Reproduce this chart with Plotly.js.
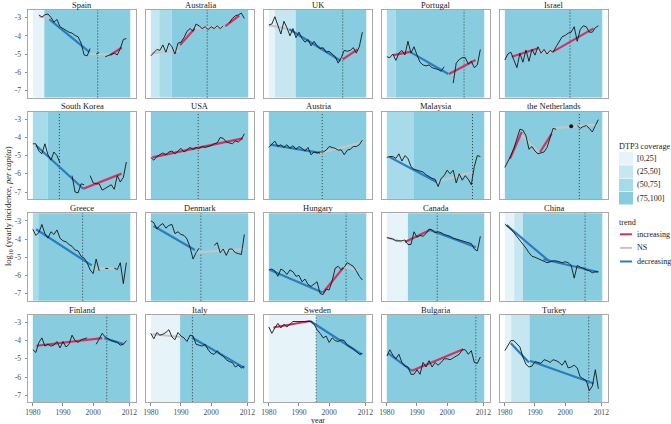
<!DOCTYPE html>
<html><head><meta charset="utf-8">
<script src="https://cdn.plot.ly/plotly-3.0.1.min.js"></script>
<style>body{margin:0;background:#fff}</style>
</head><body><div id="chart" style="width:671px;height:424px"></div>
<script>
const years = [1980,1981,1982,1983,1984,1985,1986,1987,1988,1989,1990,1991,1992,1993,1994,1995,1996,1997,1998,1999,2000,2001,2002,2003,2004,2005,2006,2007,2008,2009,2010,2011,2012];
const countries = ["Spain","Australia","UK","Portugal","Israel","South Korea","USA","Austria","Malaysia","the Netherlands","Greece","Denmark","Hungary","Canada","China","Finland","Italy","Sweden","Bulgaria","Turkey"];
const incidence = [
 [null,null,-2.85,-2.97,-2.84,-2.8,-2.98,-3.25,-3.1,-3.5,-3.6,-3.7,-3.8,-3.85,-3.98,-4.05,-4.4,-5.05,-5.1,-4.7,null,-5.0,-4.92,null,-5.15,-5.08,-5.0,-4.95,-5.05,-4.7,-4.2,-4.15,null],
 [-5.1,-4.9,-4.75,-4.8,-4.5,-4.9,-4.4,-4.6,-5.0,-4.4,-4.35,-4.1,-3.75,-3.6,-3.75,-3.35,-3.45,-3.6,-3.5,-3.65,-3.5,-3.6,-3.45,-3.6,-3.45,null,-3.3,-3.05,-2.9,-2.85,-2.75,-3.05,null],
 [-3.4,-3.35,-2.95,-3.45,-3.9,-3.2,-3.55,-4.0,-3.6,-4.1,-3.8,-4.15,-4.35,-4.2,-4.55,-4.3,-4.55,-4.7,-4.65,-4.9,-4.85,-5.0,-5.15,-5.5,-5.2,-4.8,-4.85,-4.8,-4.65,-4.95,-4.6,-3.8,null],
 [-5.15,-5.2,-5.0,-5.35,-4.95,-4.8,-5.05,-4.3,-4.95,-4.6,-5.05,-5.45,-5.6,-5.65,-5.6,-5.75,-5.8,-5.85,-5.95,-5.7,null,null,-6.6,-5.5,-5.3,-5.2,-5.2,-5.55,-5.4,-5.75,-5.6,-4.75,null],
 [-5.33,-5.0,-4.9,-5.3,-5.75,-4.96,-5.45,-4.78,-5.4,-4.74,-5.06,-4.6,-4.95,-4.75,-5.0,-4.8,-4.9,-4.6,-4.3,-4.05,-3.98,-3.85,-3.8,-3.5,-4.3,-3.65,-3.45,-3.5,-3.8,-3.8,-3.55,-3.45,null],
 [-4.35,-4.35,-4.75,-4.9,-4.35,-4.95,-5.25,-4.8,-5.0,-5.4,null,null,null,-6.1,-7.0,-7.05,-6.55,-6.6,null,-6.1,-6.5,-6.55,-6.55,-6.9,-6.8,-6.7,-6.6,-6.85,-6.1,-6.45,-6.2,-5.35,null],
 [-5.1,-5.25,-5.05,-4.95,-4.85,-4.95,-4.8,-4.75,-4.9,-4.75,-4.6,-4.8,-4.65,-4.55,-4.65,-4.55,-4.6,-4.5,-4.55,-4.5,-4.45,-4.35,-4.3,-4.0,-4.05,-4.25,-4.3,-4.35,-4.2,-4.25,-4.1,-3.8,null],
 [-4.55,-4.4,-4.2,-4.5,-4.4,-4.55,-4.4,-4.6,-4.45,-4.65,-4.5,-4.6,-4.75,-4.55,-4.95,-4.8,-4.85,-4.8,-4.8,-4.7,-4.5,-4.55,-4.6,-4.7,-4.68,-4.95,-4.7,-4.65,-4.5,-4.5,-4.4,-4.15,null],
 [-5.1,-5.05,-5.05,-5.15,-4.9,-5.3,-5.0,-5.15,-5.6,-5.75,-5.8,-5.85,-5.9,-6.05,-6.15,-6.25,-6.3,-6.7,-6.25,-6.1,-5.8,-6.0,-5.8,-6.5,-6.0,-6.35,-6.1,-6.3,-6.6,-5.6,-5.0,-5.05,null],
 [-5.65,-5.35,-5.0,-4.6,-4.0,-3.55,-3.6,-3.9,-4.65,-4.5,-4.75,-4.9,-4.85,-4.8,-4.55,-4.0,-3.5,-3.55,null,null,null,null,-3.39,null,-3.35,-3.5,-3.4,-3.35,-3.5,-3.7,-3.35,-3.02,null],
 [-3.46,-3.8,-3.65,-3.2,-3.7,-3.95,-3.6,-3.75,-3.5,-3.95,-4.1,-4.15,-4.3,-4.4,-4.6,-4.65,-4.95,-5.05,-5.3,-5.7,-5.9,-5.1,-5.75,null,-5.62,-5.62,null,-5.6,-5.68,-5.3,-6.45,-5.3,null],
 [-3.0,-3.1,-3.45,-3.25,-3.15,-3.4,-3.25,-3.2,-3.7,-3.6,-3.75,-3.8,-4.0,-4.45,-5.1,-4.75,-4.5,null,null,null,null,-4.35,-4.2,-4.75,-4.55,-4.9,-4.55,-4.55,-4.75,-4.8,-4.85,-3.75,null],
 [-5.7,-5.65,-5.75,-6.05,-5.65,-5.75,-5.95,-5.7,-5.8,-6.05,-6.0,-6.35,-6.2,-6.5,-6.6,-6.45,-6.35,-7.0,-7.05,-6.75,-6.8,-6.3,-5.6,-5.5,-5.7,-5.55,-5.3,-5.4,-5.5,-5.75,-6.05,-6.25,null],
 [-3.92,-3.95,-4.0,-4.1,-4.1,-4.1,-4.05,-4.3,-4.3,-3.6,-3.9,-3.8,-3.85,-3.7,-3.45,-3.5,-3.65,-3.6,-3.65,-3.75,-3.8,-3.85,-3.95,-4.0,-4.05,-4.1,-4.15,-4.2,-4.25,-4.55,-4.65,-3.85,null],
 [-3.18,-3.3,-3.45,-3.65,-3.85,-4.1,-4.3,-4.5,-4.75,-4.95,-5.0,-5.07,-5.15,-5.2,-5.3,-5.25,-5.2,-5.2,-5.25,-5.3,-5.25,-5.3,-5.45,-6.15,-5.45,-5.55,-5.6,-5.7,-5.75,-5.85,-5.8,-5.8,null],
 [-4.5,-4.65,-4.1,-3.85,-4.3,-4.2,-4.3,-4.25,-4.05,-4.4,-4.05,-4.35,-4.2,-3.7,-4.0,-4.1,-3.95,-3.9,-3.85,null,null,-4.2,-3.9,-3.6,-3.8,-3.9,-4.0,-4.05,-4.1,-4.25,-4.2,-4.0,null],
 [-3.6,-3.9,-3.55,-3.7,-3.65,-3.55,-3.4,-3.8,-3.95,-3.55,-3.75,-3.85,-4.05,-3.7,-3.75,-4.2,-4.25,-4.3,-4.2,-4.5,-4.7,-4.75,-4.55,-4.75,-4.85,-5.05,-5.15,-5.2,-5.45,-5.35,-5.5,-5.4,null],
 [-3.25,-3.6,-3.3,-3.05,-3.3,-3.1,-3.25,-3.1,-2.95,-2.95,-2.95,-2.95,-2.95,-2.95,-2.95,-3.1,-3.4,-3.6,-3.85,-3.75,-4.1,-3.85,-4.0,-4.05,-3.95,-4.0,-4.25,-4.35,-4.45,-4.6,-4.75,-4.7,null],
 [-4.85,-4.5,-4.8,-5.0,-4.75,-5.2,-5.4,-5.45,-5.85,-5.85,-5.6,-5.85,-5.2,-5.45,-5.1,-5.45,-5.2,-5.35,-5.2,-5.0,-5.0,-5.05,-4.95,-4.85,-4.75,-4.5,-4.5,-4.75,-4.55,-5.2,-5.25,-4.9,null],
 [-4.55,-4.25,-4.0,-4.0,-4.2,-4.35,-4.9,-5.3,-5.45,-5.4,-5.15,-5.2,-5.25,-5.05,-5.1,-5.2,-5.05,-5.1,-5.2,-5.35,-5.1,-5.5,-5.45,-5.35,-5.5,-6.0,-6.1,-6.2,-6.75,-6.5,-5.6,-6.65,null]
];
const coverageBreaks = [[1980,1983.8],[1980,1982.8,1986.9],[1980,1982,1988.9],[1980,1982.9],[1980],[1980,1984.9],[1980],[1980],[1980,1989],[1980],[1980,1981.8],[1980],[1980],[1980,1987],[1980,1983.1,1986],[1980],[1980,1989.7],[1980,1995.7],[1980],[1980,1982.1,1988.2]];
const coverageLevels = [[0,3],[1,2,3],[0,1,3],[2,3],[3],[2,3],[3],[3],[2,3],[3],[2,3],[3],[3],[0,3],[0,1,3],[3],[0,3],[0,3],[3],[0,1,3]];
const coverageEnd = 2012.3;
const coverageLabels = ["[0,25]","(25,50]","(50,75]","(75,100]"];
const coverageColors = ["#E6F4F9","#C6E7F1","#A8DBE9","#88CCDF"];
const vaccineYear = [2001.5,1998.7,2004.5,2005.6,2001.6,1988.8,1995.7,1997.7,2008.4,2004.7,1996.5,1996.6,2005.6,1996.7,2006.6,2004.5,1993.8,1995.7,2009.5,2007.8];
const trendKinds = ["increasing","NS","decreasing"];
const trendColors = ["#D2335C","#C6C6C6","#2A7CC0"];
// segments: [startYear, startValue, endYear, endValue, kindIndex]
const trends = [
 [[1982.1,-2.95,1985.5,-3.0,1],[1985.5,-3.1,1998.8,-4.9,2],[1999,-5.0,2005.6,-5.02,1],[2005.6,-5.06,2009.5,-4.64,0]],
 [[1980.3,-4.95,1989.6,-4.82,1],[1989.7,-4.5,1994.6,-3.59,0],[1994.6,-3.59,2004.3,-3.46,1],[2004.7,-3.46,2009.3,-2.89,0]],
 [[1980,-3.41,1986.8,-3.64,1],[1986.8,-3.64,2003.8,-5.37,2],[2004.5,-5.29,2009.4,-4.74,0]],
 [[1982.2,-5.06,1987.7,-4.88,0],[1987.7,-4.88,2000.4,-6.1,2],[2000.6,-6.1,2009.4,-5.33,0]],
 [[1982.3,-5.15,1990.8,-4.7,0],[1990.8,-4.85,1996,-4.87,1],[1996,-4.87,2009.4,-3.59,0]],
 [[1981,-4.43,1996.7,-6.82,2],[1996.7,-6.82,2009.4,-5.99,0]],
 [[1980.5,-5.1,2010.5,-4.05,0]],
 [[1980.5,-4.4,1997,-4.85,2],[1997,-4.85,2011.3,-4.25,1]],
 [[1980.8,-5.07,1996.5,-6.45,2],[1996.5,-6.45,2008.4,-5.9,1]],
 [[1981.7,-5.17,1985.6,-3.7,0],[1985.6,-3.88,1991.1,-4.8,1],[1991.7,-4.8,1995.5,-3.8,0],[1995.5,-3.5,2010.5,-3.3,1]],
 [[1981.1,-3.46,1999.5,-5.45,2],[2000,-5.62,2007.5,-5.62,1]],
 [[1980.9,-3.28,1994.6,-4.6,2],[1994.6,-4.74,2011,-4.56,1]],
 [[1980.4,-5.7,1997.8,-6.94,2],[1998,-6.94,2004.7,-5.57,0],[2004.7,-5.47,2009.6,-5.75,1]],
 [[1980.2,-3.92,1985,-4.15,1],[1986,-4.16,1994.3,-3.5,0],[1994.3,-3.5,2009.5,-4.45,2]],
 [[1980.6,-3.24,1995,-5.26,2],[1992.8,-5.11,2010.9,-5.81,2]],
 [[1981.2,-4.28,2003,-3.86,0],[2003.7,-3.86,2010.1,-4.19,2]],
 [[1980.5,-3.65,1990,-3.8,1],[1993.6,-3.83,2011,-5.5,2]],
 [[1981.5,-3.28,1993.7,-2.92,0],[1993.7,-2.92,2010.8,-4.76,2]],
 [[1980.5,-4.7,1988.3,-5.66,2],[1988.3,-5.66,2005.3,-4.47,0]],
 [[1982,-4.15,1988,-5.2,2],[1988.3,-5.11,2009.5,-6.36,2]]
];
const xTicks = [1980,1990,2000,2012];
const yTicks = [-7,-6,-5,-4,-3];
const yTickText = ["-7","-6","-5","-4","-3"];

const W = 671, H = 424;
const colLeft = [28,146,264,382,500], panelW = 108;
const rowTop = [10,111.6,213.2,314.8], panelH = 87.5;
const FONT = "Liberation Serif, Times New Roman, serif";

const traces = [], shapes = [], annotations = [];
const layout = {width:W, height:H, margin:{l:0,r:0,t:0,b:0}, paper_bgcolor:"#fff", plot_bgcolor:"#fff", showlegend:false, font:{family:FONT}};

countries.forEach((name, i) => {
  const r = Math.floor(i/5), c = i % 5, n = i + 1;
  const xs = n === 1 ? "x" : "x" + n, ys = n === 1 ? "y" : "y" + n;
  const xk = n === 1 ? "xaxis" : "xaxis" + n, yk = n === 1 ? "yaxis" : "yaxis" + n;
  layout[xk] = {domain:[colLeft[c]/W, (colLeft[c]+panelW)/W], range:[1978.4,2014.2], anchor:ys,
    showgrid:false, zeroline:false, showline:true, mirror:true, linecolor:"#a8a8a8", linewidth:1,
    tickvals:xTicks, ticks: r===3 ? "outside" : "", ticklen:2.5, tickcolor:"#8a8a8a",
    showticklabels: r===3, ticklabelstandoff:0, tickfont:{family:FONT,size:7.6,color:"#4d4d4d"}, fixedrange:true};
  layout[yk] = {domain:[1-(rowTop[r]+panelH)/H, 1-rowTop[r]/H], range:[-7.39,-2.58], anchor:xs,
    showgrid:false, zeroline:false, showline:true, mirror:true, linecolor:"#a8a8a8", linewidth:1,
    tickvals:yTicks, ticktext:yTickText, ticks: c===0 ? "outside" : "", ticklen:2.5, tickcolor:"#8a8a8a",
    showticklabels: c===0, ticklabelstandoff:2, tickfont:{family:FONT,size:7.6,color:"#4d4d4d"}, fixedrange:true};
  const br = coverageBreaks[i], lv = coverageLevels[i];
  br.forEach((b, k) => {
    shapes.push({type:"rect", xref:xs, yref:ys+" domain", x0:b, x1:(k+1<br.length?br[k+1]:coverageEnd), y0:0, y1:1,
      fillcolor:coverageColors[lv[k]], line:{width:0}, layer:"below"});
  });
  shapes.push({type:"line", xref:xs, yref:ys+" domain", x0:vaccineYear[i], x1:vaccineYear[i], y0:0, y1:1,
    line:{color:"#3a3a3a", width:1, dash:"1px,2px"}, layer:"below"});
  trends[i].forEach(s => {
    traces.push({type:"scatter", mode:"lines", x:[s[0],s[2]], y:[s[1],s[3]], xaxis:xs, yaxis:ys,
      line:{color:trendColors[s[4]], width:2.2}, hoverinfo:"skip"});
  });
  const v = incidence[i];
  traces.push({type:"scatter", mode:"lines", x:years, y:v, xaxis:xs, yaxis:ys, connectgaps:false,
    line:{color:"#161616", width:0.9}, hoverinfo:"skip"});
  const ix = [], iy = [];
  v.forEach((val, k) => { if (val !== null && (k===0 || v[k-1]===null) && (k===v.length-1 || v[k+1]===null)) { ix.push(years[k]); iy.push(val); } });
  if (ix.length) traces.push({type:"scatter", mode:"markers", x:ix, y:iy, xaxis:xs, yaxis:ys, marker:{color:"#161616", size:4}, hoverinfo:"skip"});
  annotations.push({text:name, x:(colLeft[c]+panelW/2)/W, y:1-(rowTop[r]-5.3)/H, xref:"paper", yref:"paper",
    showarrow:false, xanchor:"center", yanchor:"middle", font:{family:FONT, size:8.5, color:"#1a1a1a"}});
});

annotations.push({text:"log<sub>10</sub> (yearly incidence, <i>per capita</i>)", x:8/W, y:1-206/H, xref:"paper", yref:"paper",
  showarrow:false, textangle:-90, xanchor:"center", yanchor:"middle", font:{family:FONT,size:8.5,color:"#1a1a1a"}});
annotations.push({text:"year", x:318/W, y:1-420.5/H, xref:"paper", yref:"paper", showarrow:false,
  xanchor:"center", yanchor:"middle", font:{family:FONT,size:8.2,color:"#1a1a1a"}});

annotations.push({text:"DTP3 coverage", x:617/W, y:1-146/H, xref:"paper", yref:"paper", showarrow:false,
  xanchor:"left", yanchor:"middle", font:{family:FONT,size:8.2,color:"#1a1a1a"}});
coverageLabels.forEach((lab, k) => {
  const top = 152 + k*13.3;
  shapes.push({type:"rect", xref:"paper", yref:"paper", x0:619/W, x1:633/W, y0:1-(top+12.6)/H, y1:1-top/H,
    fillcolor:coverageColors[k], line:{width:0}});
  annotations.push({text:lab, x:635/W, y:1-(top+6.3)/H, xref:"paper", yref:"paper", showarrow:false,
    xanchor:"left", yanchor:"middle", font:{family:FONT,size:8,color:"#1a1a1a"}});
});
annotations.push({text:"trend", x:617/W, y:1-222/H, xref:"paper", yref:"paper", showarrow:false,
  xanchor:"left", yanchor:"middle", font:{family:FONT,size:8.2,color:"#1a1a1a"}});
trendKinds.forEach((lab, k) => {
  const yc = 234.3 + k*13.6;
  shapes.push({type:"line", xref:"paper", yref:"paper", x0:620/W, x1:632/W, y0:1-yc/H, y1:1-yc/H,
    line:{color:trendColors[k], width:2}});
  annotations.push({text:lab, x:635/W, y:1-yc/H, xref:"paper", yref:"paper", showarrow:false,
    xanchor:"left", yanchor:"middle", font:{family:FONT,size:8,color:"#1a1a1a"}});
});

layout.shapes = shapes;
layout.annotations = annotations;
Plotly.newPlot("chart", traces, layout, {staticPlot:true, displayModeBar:false});
</script>
</body></html>
